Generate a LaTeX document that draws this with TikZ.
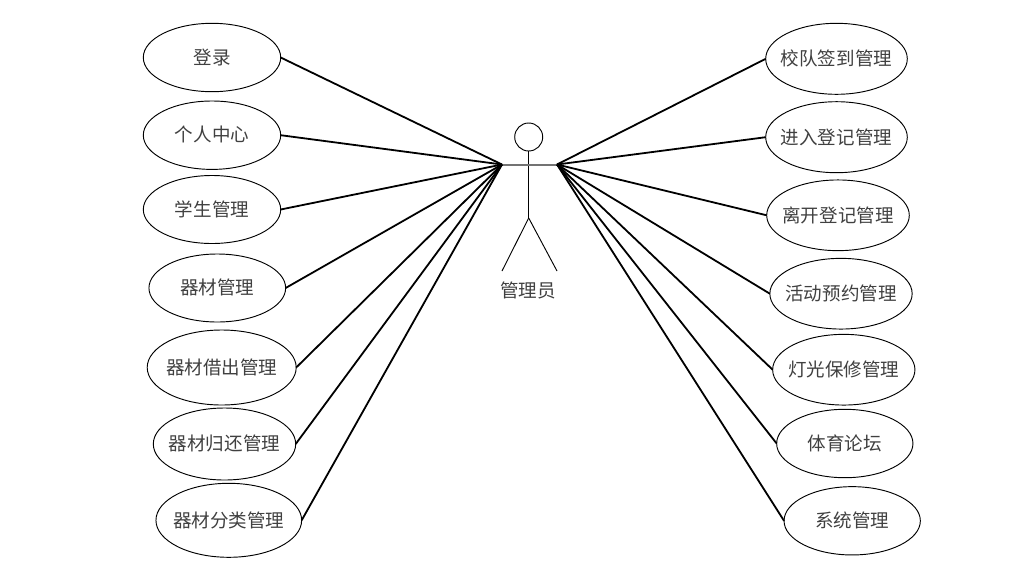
\documentclass[tikz,border=0pt]{standalone}
\usepackage{fontspec}
\setmainfont{Noto Sans CJK SC}
\usetikzlibrary{shapes.geometric}
\newcommand{\uctext}[1]{\raisebox{1.5pt}{\makebox[0pt]{#1}}}
\tikzset{
  usecase/.style 2 args={ellipse,draw=black,line width=0.7pt,inner sep=0pt,outer sep=0pt,minimum width=#1*0.75pt,minimum height=#2*0.75pt,font=\fontsize{13.9pt}{16pt}\selectfont,text=black!75},
  link/.style={draw=black,line width=1.35pt},
  stick/.style={draw=black,line width=0.7pt}
}
\begin{document}
\begin{tikzpicture}[x=0.75pt,y=-0.75pt]
\useasboundingbox (0,0) rectangle (1010,568);
\node[usecase={137.4}{68.4}] (a1) at (212,57.5) {\uctext{登录}};
\node[usecase={137.4}{68.4}] (a2) at (212,135.2) {\uctext{个人中心}};
\node[usecase={137.4}{68}] (a3) at (212,209.5) {\uctext{学生管理}};
\node[usecase={136.7}{68}] (a4) at (217.3,288) {\uctext{器材管理}};
\node[usecase={149}{75}] (a5) at (221.7,367.5) {\uctext{器材借出管理}};
\node[usecase={142.4}{72}] (a6) at (224.5,444) {\uctext{器材归还管理}};
\node[usecase={145.7}{74}] (a7) at (228.8,520.3) {\uctext{器材分类管理}};
\node[usecase={141.6}{71}] (b1) at (836.5,58.8) {\uctext{校队签到管理}};
\node[usecase={141.6}{71}] (b2) at (836.5,137.2) {\uctext{进入登记管理}};
\node[usecase={142.6}{70.7}] (b3) at (838,215.3) {\uctext{离开登记管理}};
\node[usecase={142.3}{70.7}] (b4) at (841,293.7) {\uctext{活动预约管理}};
\node[usecase={142.3}{70.7}] (b5) at (843.8,369.7) {\uctext{灯光保修管理}};
\node[usecase={136.3}{68.4}] (b6) at (844.8,443.5) {\uctext{体育论坛}};
\node[usecase={136.3}{68.3}] (b7) at (852.2,520.8) {\uctext{系统管理}};
\node[circle,draw=black,line width=0.7pt,minimum size=21pt,inner sep=0pt,outer sep=0pt] (head) at (528.7,137) {};
\coordinate (lh) at (502,164.5);
\coordinate (rh) at (557,164.5);
\coordinate (hip) at (528.7,218);
\coordinate (lf) at (502,271);
\coordinate (rf) at (557,271);
\draw[stick] (head.south) -- (hip);
\draw[stick] (hip) -- (lf);
\draw[stick] (hip) -- (rf);
\draw[draw=black!55,line width=1.5pt] (lh) -- (rh);
\node[font=\fontsize{13.9pt}{16pt}\selectfont,text=black!75,inner sep=0pt] (actor) at (528,290) {管理员};
\foreach \n in {a1,a2,a3,a4,a5,a6,a7} \draw[link] (lh) -- (\n.east);
\foreach \n in {b1,b2,b3,b4,b5,b6,b7} \draw[link] (rh) -- (\n.west);
\end{tikzpicture}
\end{document}
